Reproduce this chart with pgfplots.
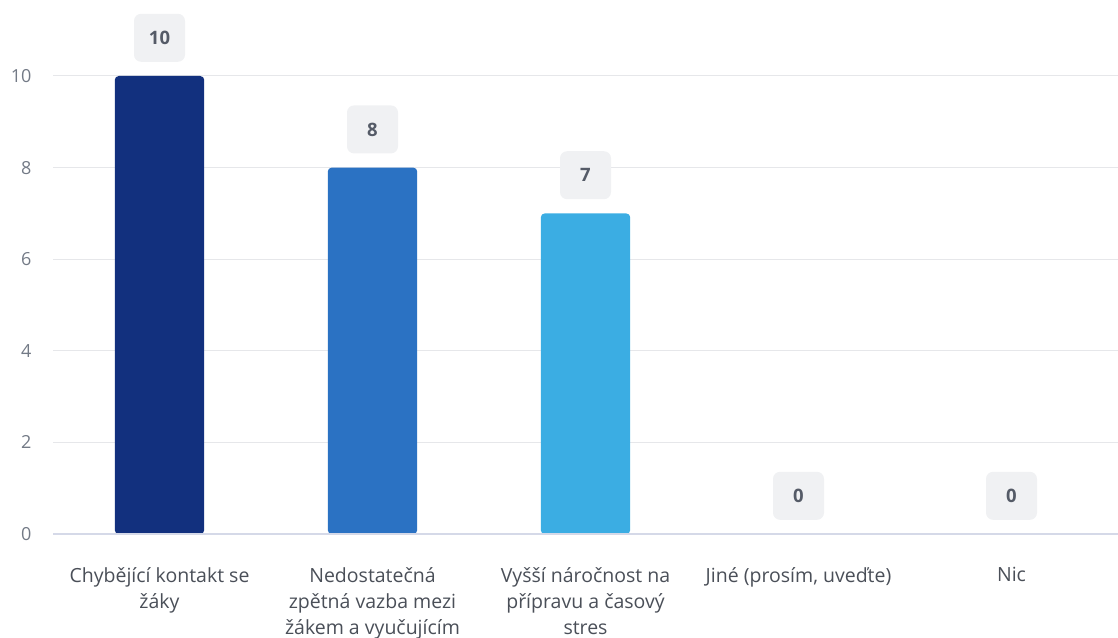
\documentclass[border=0pt]{standalone}
\usepackage{fontspec}
\setmainfont{Open Sans}
\usepackage{pgfplots}
\pgfplotsset{compat=1.18}
\definecolor{cA}{HTML}{12307E}
\definecolor{cB}{HTML}{2B72C3}
\definecolor{cC}{HTML}{3BADE3}
\definecolor{gridc}{HTML}{E6E7EA}
\definecolor{basec}{HTML}{D5D9E8}
\definecolor{boxc}{HTML}{F0F1F3}
\definecolor{valc}{HTML}{555B67}
\definecolor{tickc}{HTML}{737A86}
\definecolor{labc}{HTML}{4A4F58}
\begin{document}
\begin{tikzpicture}
\begin{axis}[
  name=ax,
  scale only axis, width=1065bp, height=458bp,
  xmin=-0.5, xmax=4.5, ymin=0, ymax=10,
  clip=false,
  axis line style={draw=none},
  major tick length=0pt,
  ytick={0,2,4,6,8,10},
  xtick={0,1,2,3,4},
  xticklabels={{Chybějící kontakt se\\žáky},{Nedostatečná\\zpětná vazba mezi\\žákem a vyučujícím},{Vyšší náročnost na\\přípravu a časový\\stres},{Jiné (prosím, uveďte)},{Nic}},
  xticklabel style={align=center, anchor=north, text=labc, font=\fontsize{19.5bp}{26bp}\selectfont, yshift=-30bp},
  yticklabel style={text=tickc, font=\fontsize{18bp}{20bp}\selectfont, anchor=east, xshift=-18bp},
  /pgf/number format/assume math mode=true,
  ymajorgrids,
  grid style={color=gridc, line width=1bp},
  ybar,
  nodes near coords,
  every node near coord/.append style={fill=boxc, rounded corners=7bp, minimum width=51bp, minimum height=48bp, inner sep=0pt, text=valc, font=\fontsize{18.5bp}{20bp}\selectfont\bfseries, anchor=south, yshift=14bp},
]
\addplot[fill=cA, draw=none, bar width=0.42, bar shift=0pt, rounded corners=4bp] coordinates {(0,10)};
\addplot[fill=cB, draw=none, bar width=0.42, bar shift=0pt, rounded corners=4bp] coordinates {(1,8)};
\addplot[fill=cC, draw=none, bar width=0.42, bar shift=0pt, rounded corners=4bp] coordinates {(2,7)};
\addplot[fill=none, draw=none, bar width=0.42, bar shift=0pt] coordinates {(3,0)};
\addplot[fill=none, draw=none, bar width=0.42, bar shift=0pt] coordinates {(4,0)};
\draw[basec, line width=1.5bp] (axis cs:-0.5,0) -- (axis cs:4.5,0);
\end{axis}
\pgfresetboundingbox
\path[use as bounding box] ([shift={(-53bp,-103bp)}]ax.south west) rectangle ([shift={(0bp,76bp)}]ax.north east);
\end{tikzpicture}
\end{document}
